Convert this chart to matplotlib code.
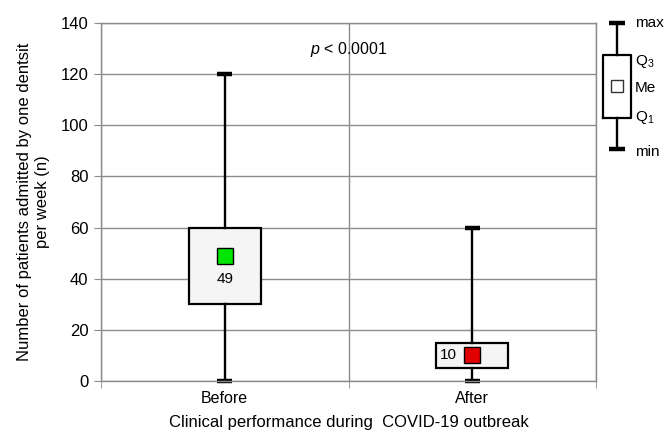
import numpy as np
import matplotlib
matplotlib.use("Agg")
import matplotlib.pyplot as plt

plt.rcParams['font.family'] = ['Liberation Sans', 'DejaVu Sans']
plt.rcParams['mathtext.fontset'] = 'custom'
plt.rcParams['mathtext.it'] = 'Liberation Sans:italic'
plt.rcParams['mathtext.rm'] = 'Liberation Sans'

# Weekly patients per dentist, before / after the outbreak
groups = ["Before", "After"]
mins = [0, 0]
q1s = [30, 5]
medians = [49, 10]
q3s = [60, 15]
maxs = [120, 60]
marker_colors = ["#00e600", "#e00000"]
p_text = "$p$ < 0.0001"

GRID = "#8c8c8c"
FS = 12

fig = plt.figure(figsize=(6.64, 4.30), dpi=100)
ax = fig.add_axes([101 / 664, 1 - 381 / 430, 495 / 664, 358 / 430])

positions = [0.5, 1.5]
stats = [dict(whislo=lo, q1=a, med=m, q3=b, whishi=hi, label=g)
         for g, lo, a, m, b, hi in zip(groups, mins, q1s, medians, q3s, maxs)]
art = ax.bxp(stats, positions=positions, widths=0.29, showfliers=False,
             patch_artist=True, capwidths=0.062,
             boxprops=dict(facecolor="#f5f5f5", edgecolor="black", linewidth=1.6),
             whiskerprops=dict(color="black", linewidth=1.7),
             capprops=dict(color="black", linewidth=3.2, solid_capstyle="butt"),
             medianprops=dict(linewidth=0))
for k in ("caps", "whiskers", "boxes"):
    for a in art[k]:
        a.set_clip_on(False)

# median squares and value labels
for x, m, c in zip(positions, medians, marker_colors):
    ax.plot(x, m, marker="s", markersize=11, markerfacecolor=c,
            markeredgecolor="black", markeredgewidth=1, zorder=5, clip_on=False)
ax.text(positions[0], medians[0] - 9, str(medians[0]), ha="center", va="center", fontsize=FS - 1)
ax.text(positions[1] - 0.098, medians[1], str(medians[1]), ha="center", va="center", fontsize=FS - 1)

ax.text(1.0, 129.8, p_text, ha="center", va="center", fontsize=FS - 0.5)

ax.set_xlim(0, 2)
ax.set_ylim(0, 140)
ax.set_yticks(np.arange(0, 141, 20))
ax.set_xticks(positions)
ax.set_xticklabels(groups)
ax.set_xticks([0, 1, 2], minor=True)
ax.tick_params(axis="x", which="major", length=0, labelsize=FS - 0.5, pad=7)
ax.tick_params(axis="x", which="minor", length=5, color=GRID, direction="out")
ax.tick_params(axis="y", length=5, color=GRID, direction="out", labelsize=FS, pad=4)
ax.yaxis.grid(True, color=GRID, linewidth=1)
ax.xaxis.grid(True, which="minor", color=GRID, linewidth=1)
ax.set_axisbelow(True)
for s in ax.spines.values():
    s.set_color(GRID)
    s.set_linewidth(1)

ax.set_xlabel("Clinical performance during  COVID-19 outbreak", fontsize=FS, labelpad=7)
ax.set_ylabel("Number of patients admitted by one dentsit\nper week (n)", fontsize=FS,
              labelpad=8, linespacing=1.25)

# key explaining the box elements
lax = fig.add_axes([595 / 664, 1 - 165 / 430, 69 / 664, 155 / 430])
lax.set_xlim(0, 69)
lax.set_ylim(-0.5, 4.42)
lax.axis("off")
lax.bxp([dict(whislo=0, q1=1, med=2, q3=3, whishi=4)], positions=[22], widths=28,
        showfliers=False, capwidths=16,
        boxprops=dict(color="black", linewidth=1.6),
        whiskerprops=dict(color="black", linewidth=1.7),
        capprops=dict(color="black", linewidth=3.2, solid_capstyle="butt"),
        medianprops=dict(linewidth=0))
lax.plot(22, 2, marker="s", markersize=8, markerfacecolor="white",
         markeredgecolor="#333333", markeredgewidth=1)
key_labels = ["max", "$\\mathrm{Q}_3$", "Me", "$\\mathrm{Q}_1$", "min"]
key_offsets = [0.0, -0.2, -0.05, 0.0, -0.1]
for yv, t, off in zip([4, 3, 2, 1, 0], key_labels, key_offsets):
    lax.text(40, yv + off, t, ha="left", va="center", fontsize=FS - 1)

fig.savefig("out.png", dpi=100)
